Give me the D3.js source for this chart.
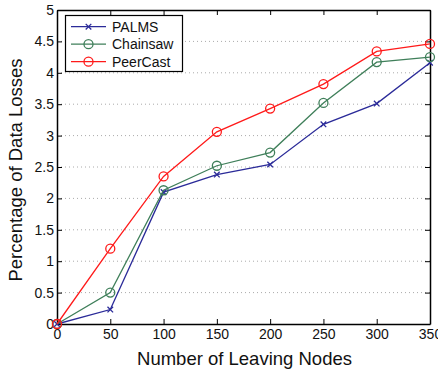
<!DOCTYPE html>
<html><head><meta charset="utf-8">
<script src="https://cdn.jsdelivr.net/npm/d3@7"></script>
<style>body{margin:0;background:#fff}svg{display:block}</style>
</head><body>
<script>
const categories = [0, 50, 100, 150, 200, 250, 300, 350];
const palms = [0, 0.23, 2.10, 2.38, 2.54, 3.18, 3.51, 4.16];
const chainsaw = [0, 0.50, 2.13, 2.52, 2.73, 3.52, 4.17, 4.25];
const peercast = [0, 1.20, 2.35, 3.06, 3.43, 3.82, 4.34, 4.46];
const yTicks = [0, 0.5, 1, 1.5, 2, 2.5, 3, 3.5, 4, 4.5, 5];
const seriesNames = ["PALMS", "Chainsaw", "PeerCast"];

const W = 438, H = 374;
const m = {l: 57, r: 8, t: 10, b: 50};
const font = "'Liberation Sans', Arial, sans-serif";
const svg = d3.select("body").append("svg").attr("width", W).attr("height", H);
const x = d3.scaleLinear().domain([0, 350]).range([m.l, W - m.r]);
const y = d3.scaleLinear().domain([0, 5]).range([H - m.b, m.t]);

const series = [
  {name: seriesNames[0], vals: palms, color: "#2b2b99", marker: "x"},
  {name: seriesNames[1], vals: chainsaw, color: "#3f7f5a", marker: "o"},
  {name: seriesNames[2], vals: peercast, color: "#ff1a1a", marker: "o"}
];

// grid
svg.append("g").selectAll("line").data(yTicks.slice(1, -1)).join("line")
  .attr("x1", m.l).attr("x2", W - m.r).attr("y1", d => y(d)).attr("y2", d => y(d))
  .attr("stroke", "#aaa").attr("stroke-width", 1).attr("stroke-dasharray", "1,3");

// axes
const fmt = d => String(d);
const gx = svg.append("g").attr("transform", `translate(0,${H - m.b})`)
  .call(d3.axisBottom(x).tickValues(categories).tickSizeInner(-5).tickSizeOuter(0).tickPadding(5).tickFormat(fmt));
const gxt = svg.append("g").attr("transform", `translate(0,${m.t})`)
  .call(d3.axisTop(x).tickValues(categories).tickSizeInner(-5).tickSizeOuter(0).tickFormat(""));
const gy = svg.append("g").attr("transform", `translate(${m.l},0)`)
  .call(d3.axisLeft(y).tickValues(yTicks).tickSizeInner(-5).tickSizeOuter(0).tickPadding(3).tickFormat(fmt));
const gyr = svg.append("g").attr("transform", `translate(${W - m.r},0)`)
  .call(d3.axisRight(y).tickValues(yTicks).tickSizeInner(-5).tickSizeOuter(0).tickFormat(""));
[gx, gxt, gy, gyr].forEach(g => {
  g.selectAll("path").attr("stroke", "#000").attr("stroke-width", 1.5);
  g.selectAll("line").attr("stroke", "#000");
  g.selectAll("text").attr("fill", "#111").style("font-family", font).style("font-size", "14px");
});

// lines
const line = d3.line().x((d, i) => x(categories[i])).y(d => y(d));
function drawMarker(g, mk, cx, cy, color) {
  if (mk === "o") {
    g.append("circle").attr("cx", cx).attr("cy", cy).attr("r", 4.5)
      .attr("fill", "none").attr("stroke", color).attr("stroke-width", 1.3);
  } else {
    const s = 2.8;
    g.append("path").attr("d", `M${cx - s},${cy - s}L${cx + s},${cy + s}M${cx - s},${cy + s}L${cx + s},${cy - s}`)
      .attr("stroke", color).attr("stroke-width", 1.3);
  }
}
series.forEach(s => {
  const g = svg.append("g");
  g.append("path").attr("d", line(s.vals)).attr("fill", "none")
    .attr("stroke", s.color).attr("stroke-width", 1.3);
  s.vals.forEach((v, i) => drawMarker(g, s.marker, x(categories[i]), y(v), s.color));
});

// legend
const lg = svg.append("g");
lg.append("rect").attr("x", 65.5).attr("y", 15.5).attr("width", 117).attr("height", 56)
  .attr("fill", "#fff").attr("stroke", "#000").attr("stroke-width", 1.2);
series.forEach((s, i) => {
  const cy = 26.7 + i * 17.5;
  lg.append("line").attr("x1", 71).attr("x2", 106).attr("y1", cy).attr("y2", cy)
    .attr("stroke", s.color).attr("stroke-width", 1.3);
  drawMarker(lg, s.marker, 88.5, cy, s.color);
  lg.append("text").attr("x", 112).attr("y", cy + 5).text(s.name)
    .style("font-family", font).style("font-size", "14px").attr("fill", "#111");
});

// axis labels
svg.append("text").attr("x", (m.l + W - m.r) / 2 + 1).attr("y", 365).attr("text-anchor", "middle")
  .text("Number of Leaving Nodes").style("font-family", font).style("font-size", "18.5px").attr("fill", "#111");
svg.append("text").attr("transform", `translate(22,${(m.t + H - m.b) / 2 + 3}) rotate(-90)`)
  .attr("text-anchor", "middle").text("Percentage of Data Losses")
  .style("font-family", font).style("font-size", "18.5px").attr("fill", "#111");
</script>
</body></html>
